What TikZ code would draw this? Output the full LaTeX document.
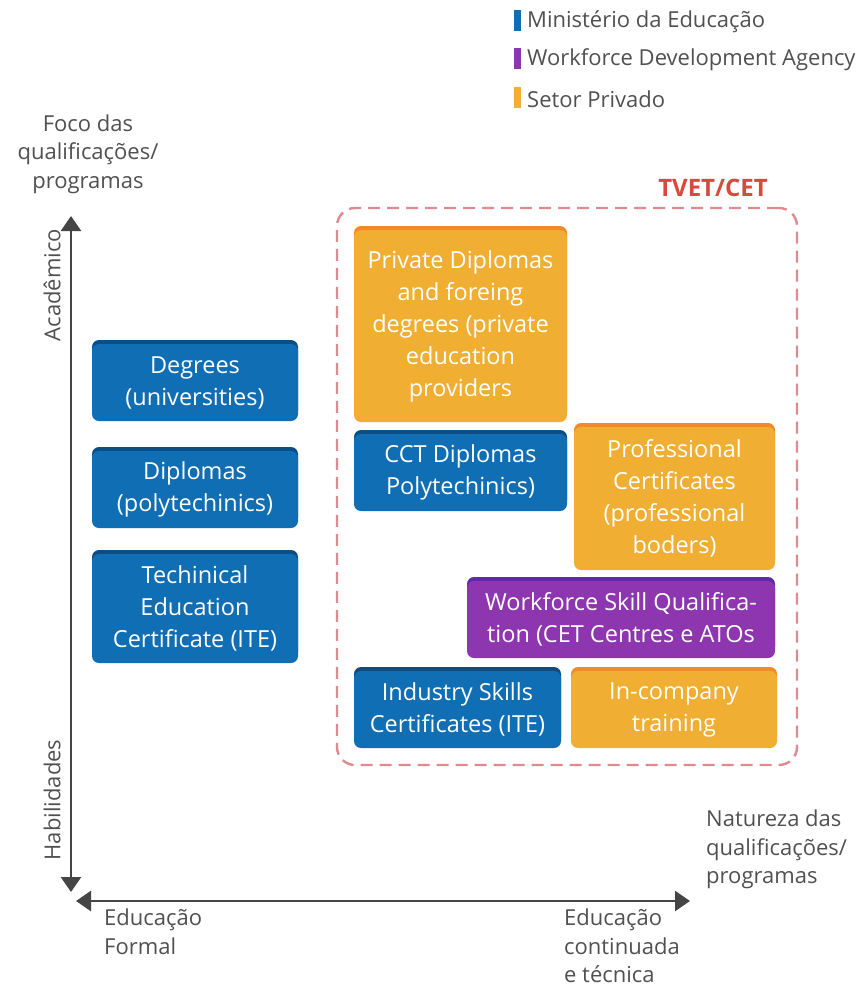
\documentclass[tikz,border=0pt]{standalone}
\usepackage{fontspec}
\setmainfont{Open Sans}
\usepackage{tikz}
\usetikzlibrary{arrows.meta}

\definecolor{meblue}{HTML}{106EB4}
\definecolor{mebluetop}{HTML}{0B4E86}
\definecolor{spyellow}{HTML}{F0AE32}
\definecolor{spyellowtop}{HTML}{F08B2C}
\definecolor{wdapurple}{HTML}{8E36B0}
\definecolor{wdapurpletop}{HTML}{5E2BA8}
\definecolor{axisgray}{HTML}{454545}
\definecolor{labelgray}{HTML}{505050}
\definecolor{tvetred}{HTML}{D9483B}
\definecolor{tvetpink}{HTML}{E08A8F}

\begin{document}
\begin{tikzpicture}[x=1pt,y=-1pt,
            qual node/.style={rounded corners=7pt, inner sep=0pt, align=center, text=white,
                font=\fontsize{23.5}{32}\selectfont},
            me node/.style={qual node, fill=meblue, preaction={fill=mebluetop, transform canvas={yshift=4pt}}},
            sp node/.style={qual node, fill=spyellow, preaction={fill=spyellowtop, transform canvas={yshift=4pt}}},
            wda node/.style={qual node, fill=wdapurple, preaction={fill=wdapurpletop, transform canvas={yshift=4pt}}},
            axis label/.style={text=labelgray, inner sep=0pt, font=\fontsize{22}{28.5}\selectfont},
            legend bar/.style={minimum width=7pt, minimum height=21pt, inner sep=0pt},
            legend label/.style={text=labelgray, inner sep=0pt, anchor=west, font=\fontsize{22}{26}\selectfont},
            axis/.style={line width=2.6pt, draw=axisgray, {Triangle[width=20pt,length=15pt]}-{Triangle[width=20pt,length=15pt]}},
            ]
            \useasboundingbox (0,0) rectangle (857,989);

            % legend
            \node[legend bar, fill=meblue] (l1) at (517.5,20) {};
            \node[legend bar, fill=wdapurple] (l2) at (517.5,58) {};
            \node[legend bar, fill=spyellow] (l3) at (517.5,97) {};
            \node[legend label] (t1) at (527,22) {Ministério da Educação};
            \node[legend label] (t2) at (527,60) {Workforce Development Agency};
            \node[legend label] (t3) at (527,99) {Setor Privado};

            % axes
            \coordinate (ytop) at (71,216);
            \coordinate (ybot) at (71,892);
            \coordinate (xleft) at (76,901);
            \coordinate (xright) at (690,901);
            \draw[axis] (ybot) -- (ytop);
            \draw[axis] (xleft) -- (xright);

            \node[axis label, align=center] (yname) at (88,154) {Foco das\\qualificações/\\programas};
            \node[axis label, rotate=90] (acad) at (52,285) {Acadêmico};
            \node[axis label, rotate=90] (hab) at (52,800) {Habilidades};
            \node[axis label, align=left, anchor=north west] (xname) at (706,810) {Natureza das\\qualificações/\\programas};
            \node[axis label, align=left, anchor=north west] (formal) at (104,909) {Educação\\Formal};
            \node[axis label, align=left, anchor=north west] (cet) at (564,909) {Educação\\continuada\\e técnica};

            % TVET/CET area
            \node[draw=tvetpink, line width=2.4pt, dash pattern=on 12pt off 7pt, rounded corners=18pt,
                minimum width=460pt, minimum height=557pt] (tvet) at (567,486.5) {};
            \node[text=tvetred, inner sep=0pt, font=\fontsize{24}{28}\selectfont\bfseries] (tvetname) at (713,188) {TVET/CET};

            % formal education
            \node[me node, minimum width=206pt, minimum height=77pt] (degrees) at (195,382.5) {Degrees\\(universities)};
            \node[me node, minimum width=206pt, minimum height=77pt] (diplomas) at (195,489.5) {Diplomas\\(polytechinics)};
            \node[me node, minimum width=206pt, minimum height=109pt] (ite) at (195,608.5) {Techinical\\Education\\Certificate (ITE)};

            % continuing education
            \node[sp node, minimum width=213pt, minimum height=192pt] (private) at (460.5,326) {Private Diplomas\\and foreing\\degrees (private\\education\\providers};
            \node[me node, minimum width=213pt, minimum height=77pt] (cct) at (460.5,472.5) {CCT Diplomas\\Polytechinics)};
            \node[sp node, minimum width=201pt, minimum height=143pt] (prof) at (674.5,498.5) {Professional\\Certificates\\(professional\\boders)};
            \node[wda node, minimum width=308pt, minimum height=77pt] (wsq) at (621,619.5) {Workforce Skill Qualifica-\\tion (CET Centres e ATOs};
            \node[me node, minimum width=207pt, minimum height=77pt] (isc) at (457.5,709.5) {Industry Skills\\Certificates (ITE)};
            \node[sp node, minimum width=206pt, minimum height=77pt] (incompany) at (674,709.5) {In-company\\training};
        \end{tikzpicture}
\end{document}
